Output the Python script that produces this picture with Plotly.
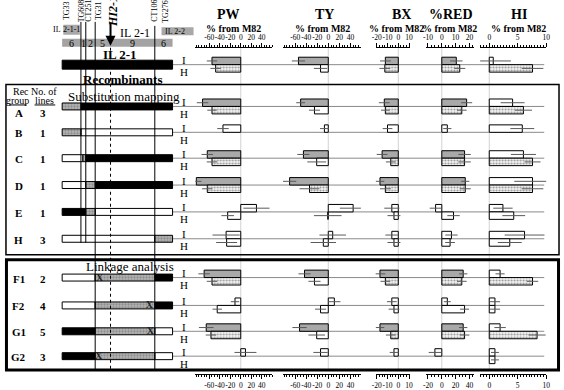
import plotly.graph_objects as go

W, H = 564, 390
SERIF = "Liberation Serif, Times New Roman, serif"

# ---------------- data ----------------
rows = ["IL 2-1", "A", "B", "C", "D", "E", "H", "F1", "F2", "G1", "G2"]
n_lines = ["", "3", "1", "1", "1", "1", "3", "2", "4", "5", "3"]
traits = ["PW", "TY", "BX", "%RED", "HI"]

pw_I = [-55, -73, -34, -64, -85, 30, -28, -70, -11, -66, 9]
pw_I_err = [10, 11, 11, 11, 10, 25, 26, 11, 8, 14, 21]
pw_H = [-48, -55, None, -55, -64, -25, -27, -55, -45, -57, None]
pw_H_err = [10, 9, None, 10, 10, 12, 20, 10, 9, 10, None]

ty_I = [-54, -50, -7, -45, -70, 45, 8, -43, 11, -52, -14]
ty_I_err = [12, 8, 8, 11, 12, 24, 24, 11, 11, 13, 13]
ty_H = [-14, -25, None, -21, -34, -1, -9, -25, -14, -21, None]
ty_H_err = [12, 10, None, 17, 18, 25, 23, 11, 10, 15, None]

bx_I = [-12, -13, -10, -15, -17, -6, -6, -17, -6, -17, -4]
bx_I_err = [5, 5, 4.5, 5, 4, 7, 6, 5, 4.5, 4, 4]
bx_H = [-12.5, -12, None, -7, -12, -4, -4, -12, -4, -7, None]
bx_H_err = [5, 4, None, 4.5, 5, 6, 6, 4.5, 5, 4.5, None]

red_I = [21, 36, 8, 33, 34, -9, 14, 31, 8, 31, -10]
red_I_err = [9, 8, 6, 9, 6, 8.5, 9, 6, 5, 6, 9]
red_H = [26, 29, None, 33, 34, 17, 12, 29, 33, 33, None]
red_H_err = [8, 7, None, 9, 8, 9, 7, 7, 6.5, 7, None]

hi_I = [0.7, 4.1, 5.8, 6.0, 7.6, 2.4, 6.2, 1.9, 1.0, 1.9, 1.0]
hi_I_err = [3.1, 2.1, 2.1, 2.2, 3.2, 1.7, 3.5, 0.8, 0.9, 1.0, 0.7]
hi_H = [7.6, 6.0, None, 7.6, 7.6, 4.3, 3.6, 7.6, 1.0, 8.4, 1.0]
hi_H_err = [1.9, 1.5, None, 1.4, 1.9, 2.0, 2.1, 1.0, 0.9, 1.5, 0.7]

# significant difference from M82 (1 = significant)
sig_I = {"PW": [1, 1, 0, 1, 1, 0, 0, 1, 0, 1, 0], "TY": [1, 1, 0, 1, 1, 0, 0, 1, 0, 1, 0],
         "BX": [1, 1, 0, 1, 1, 0, 0, 1, 0, 1, 0], "%RED": [1, 1, 0, 1, 1, 0, 0, 1, 0, 1, 0],
         "HI": [0] * 11}
sig_H = {"PW": [1, 1, 0, 1, 1, 0, 0, 1, 0, 1, 0], "TY": [0, 0, 0, 0, 1, 0, 0, 0, 0, 0, 0],
         "BX": [1, 1, 0, 1, 1, 0, 0, 1, 0, 1, 0], "%RED": [1, 1, 0, 1, 1, 0, 0, 1, 0, 1, 0],
         "HI": [1, 1, 0, 1, 1, 0, 0, 1, 0, 1, 0]}

tick_vals = {"PW": [-60, -40, -20, 0, 20, 40], "TY": [-60, -40, -20, 0, 20, 40],
             "BX": [-20, -10, 0, 10], "%RED": [-20, 0, 20, 40], "HI": [0, 5, 10]}
top_text_red = ["-10", "0", "10", "20"]

# map (relative units along the IL 2-1 segment)
markers = ["TG33", "TG608", "CT251", "TG31", "HI2-1", "CT106", "TG276"]
marker_pos = [4.5, 17, 21.4, 29.9, 43.8, 83.9, 94]
bin_edges = [0, 17, 21.4, 29.9, 43.8, 83.9, 100]
bin_labels = ["6", "1", "2", "5", "9", "6"]
il_211 = (1, 16)
il_22 = (90, 119)

# genotype segments: P = pennellii, E = esculentum (M82), R = recombination interval
geno = {
    "IL 2-1": [(0, 100, "P")],
    "A": [(0, 17, "R"), (17, 100, "P")],
    "B": [(0, 17, "R"), (17, 100, "E")],
    "C": [(0, 18.8, "E"), (18.8, 21.4, "R"), (21.4, 100, "P")],
    "D": [(0, 21.4, "E"), (21.4, 29.9, "R"), (29.9, 100, "P")],
    "E": [(0, 21.4, "P"), (21.4, 29.9, "R"), (29.9, 100, "E")],
    "H": [(0, 83.9, "E"), (83.9, 100, "R")],
    "F1": [(0, 29.9, "E"), (29.9, 83.9, "R"), (83.9, 100, "P")],
    "F2": [(0, 29.9, "E"), (29.9, 83.9, "R"), (83.9, 100, "P")],
    "G1": [(0, 29.9, "P"), (29.9, 83.9, "R"), (83.9, 100, "E")],
    "G2": [(0, 29.9, "P"), (29.9, 83.9, "R"), (83.9, 100, "E")],
}
x_marks = {"F1": 34, "F2": 79, "G1": 80, "G2": 33}

# ---------------- layout helpers ----------------
row_y = [65, 107, 133, 159, 186, 213, 240, 279, 307, 333, 358]
panel_px = {"PW": (194, 272), "TY": (283, 362), "BX": (377, 412), "%RED": (428, 477), "HI": (483, 550)}
panel_rng = {"PW": (-87, 60), "TY": (-82, 59), "BX": (-21, 11), "%RED": (-23, 47), "HI": (-1.6, 10)}
minor_dt = {"PW": 5, "TY": 5, "BX": 2.5, "%RED": 5, "HI": 0.5}
title_px = {"PW": 228, "TY": 325, "BX": 403, "%RED": 453, "HI": 522}
sub_px = {"PW": 233, "TY": 323, "BX": 398, "%RED": 452, "HI": 522}
values = {"PW": (pw_I, pw_I_err, pw_H, pw_H_err), "TY": (ty_I, ty_I_err, ty_H, ty_H_err),
          "BX": (bx_I, bx_I_err, bx_H, bx_H_err), "%RED": (red_I, red_I_err, red_H, red_H_err),
          "HI": (hi_I, hi_I_err, hi_H, hi_H_err)}

def px(p):
    return p / W

fig = go.Figure()

# ---- chromosome diagram (axis x) ----
chrom_dom = (0, 195)
u_scale = 1.12
u0_px = 59
chrom_rng = ((chrom_dom[0] - u0_px) / u_scale, (chrom_dom[1] - u0_px) / u_scale)

# bin bar and IL boxes
fig.add_trace(go.Bar(orientation="h", y=[43], x=[bin_edges[-1] - bin_edges[0]], base=[bin_edges[0]],
                     width=8, marker=dict(color="#a3a3a3", line=dict(width=0)),
                     xaxis="x", yaxis="y", hoverinfo="skip", showlegend=False))
fig.add_trace(go.Bar(orientation="h", y=[30, 31.5], x=[il_211[1] - il_211[0], il_22[1] - il_22[0]],
                     base=[il_211[0], il_22[0]], width=[10, 8],
                     marker=dict(color="#a8a8a8", line=dict(width=0)),
                     xaxis="x", yaxis="y", hoverinfo="skip", showlegend=False))

styles = {"P": dict(color="black", line=dict(color="black", width=1)),
          "E": dict(color="white", line=dict(color="black", width=1)),
          "R": dict(color="#b4b4b4", line=dict(color="black", width=1),
                    pattern=dict(shape=".", fgcolor="#6a6a6a", size=3, solidity=0.45, fillmode="overlay"))}
for gt in ["E", "P", "R"]:
    ys, xs, bs, ws = [], [], [], []
    for i, r in enumerate(rows):
        for (s, e, t) in geno[r]:
            if t == gt:
                ys.append(row_y[i]); xs.append(e - s); bs.append(s)
                ws.append(9 if r == "IL 2-1" else 7)
    fig.add_trace(go.Bar(orientation="h", y=ys, x=xs, base=bs, width=ws, marker=styles[gt],
                         xaxis="x", yaxis="y", hoverinfo="skip", showlegend=False))

fig.add_trace(go.Scatter(x=[x_marks[r] for r in x_marks], y=[row_y[rows.index(r)] + 0.5 for r in x_marks],
                         mode="text", text=["<b>X</b>"] * len(x_marks),
                         textfont=dict(family=SERIF, size=10, color="#222"),
                         xaxis="x", yaxis="y", hoverinfo="skip", showlegend=False))

# ---- trait panels ----
axis_ids = {t: i + 2 for i, t in enumerate(traits)}
for t in traits:
    k = axis_ids[t]
    I, Ie, Hh, He = values[t]
    ys, xs, es, cols, pats = [], [], [], [], []
    for i in range(len(rows)):
        if I[i] is not None:
            ys.append(row_y[i] - 3.75); xs.append(I[i]); es.append(Ie[i])
            cols.append("#a9a9a9" if sig_I[t][i] else "white"); pats.append("")
        if Hh[i] is not None:
            ys.append(row_y[i] + 3.75); xs.append(Hh[i]); es.append(He[i])
            if sig_H[t][i]:
                cols.append("#f4f4f4"); pats.append(".")
            else:
                cols.append("white"); pats.append("")
    fig.add_trace(go.Bar(orientation="h", y=ys, x=xs, base=0, width=7.5,
                         marker=dict(color=cols, line=dict(color="black", width=1),
                                     pattern=dict(shape=pats, fgcolor="#8f8f8f", size=3,
                                                  solidity=0.4, fillmode="overlay")),
                         error_x=dict(type="data", array=es, color="#5a5a5a", thickness=1, width=0),
                         xaxis=f"x{k}", yaxis="y", hoverinfo="skip", showlegend=False))
    # dummy trace for the bottom ruler axis
    fig.add_trace(go.Scatter(x=[0], y=[-10], mode="markers", marker=dict(opacity=0),
                             xaxis=f"x{k + 5}", yaxis="y", hoverinfo="skip", showlegend=False))

layout_axes = {}
layout_axes["xaxis"] = dict(domain=[px(chrom_dom[0]), px(chrom_dom[1])], range=list(chrom_rng),
                            visible=False, fixedrange=True)
layout_axes["yaxis"] = dict(domain=[0, 1], range=[H, 0], visible=False, fixedrange=True)
for t in traits:
    k = axis_ids[t]
    tv = tick_vals[t]
    top_txt = top_text_red if t == "%RED" else [str(v) for v in tv]
    common = dict(range=list(panel_rng[t]), showgrid=False, zeroline=False, showline=True,
                  linecolor="black", linewidth=1, ticks="outside", ticklen=4, tickwidth=1,
                  tickcolor="black", tickvals=tv, tickangle=0,
                  tickfont=dict(family=SERIF, size=7.5, color="black"),
                  minor=dict(ticks="outside", ticklen=2, dtick=minor_dt[t], tick0=0,
                             tickcolor="black", tickwidth=1, showgrid=False),
                  anchor="free", fixedrange=True)
    layout_axes[f"xaxis{k}"] = dict(domain=[px(panel_px[t][0]), px(panel_px[t][1])], side="top",
                                     position=1 - 47 / H, ticktext=top_txt, **common)
    layout_axes[f"xaxis{k + 5}"] = dict(overlaying=f"x{k}", side="bottom", position=1 - 376 / H,
                                         ticktext=[str(v) for v in tv], **common)

shapes = []
# baselines
for y in row_y:
    shapes.append(dict(type="line", xref="paper", yref="y", x0=px(171), x1=px(548), y0=y, y1=y,
                       line=dict(color="#8a8a8a", width=1), layer="below"))
# zero lines
for t in traits:
    shapes.append(dict(type="line", xref=f"x{axis_ids[t]}", yref="y", x0=0, x1=0, y0=48, y1=372,
                       line=dict(color="#d2d2d2", width=1), layer="below"))
# marker lines
marker_lines = {"TG608": (22, 244), "CT251": (22, 244), "TG31": (22, 372), "CT106": (26, 372)}
for m, (y0, y1) in marker_lines.items():
    xm = marker_pos[markers.index(m)]
    shapes.append(dict(type="line", xref="x", yref="y", x0=xm, x1=xm, y0=y0, y1=y1,
                       line=dict(color="black", width=1)))
xq = marker_pos[markers.index("HI2-1")]
shapes.append(dict(type="line", xref="x", yref="y", x0=xq, x1=xq, y0=48, y1=372,
                   line=dict(color="black", width=1, dash="3px,3px")))
# boxes
shapes.append(dict(type="rect", xref="paper", yref="y", x0=px(2), x1=px(563), y0=85, y1=256,
                   line=dict(color="black", width=1.5)))
shapes.append(dict(type="rect", xref="paper", yref="y", x0=px(2.5), x1=px(562.5), y0=261, y1=372,
                   line=dict(color="black", width=3)))
# header underlines
for a, b in [(5, 23), (31, 52)]:
    shapes.append(dict(type="line", xref="paper", yref="y", x0=px(a), x1=px(b), y0=105.5, y1=105.5,
                       line=dict(color="black", width=1)))

ann = []
def text(xp, y, s, size=11, bold=False, italic=False, angle=0, xanchor="center", xref="paper", xshift=0):
    if bold:
        s = f"<b>{s}</b>"
    if italic:
        s = f"<i>{s}</i>"
    ann.append(dict(x=xp, y=y, xref=xref, yref="y", text=s, showarrow=False, textangle=angle,
                    xanchor=xanchor, yanchor="middle", xshift=xshift,
                    font=dict(family=SERIF, size=size, color="black")))

# marker labels
label_shift = {"TG33": 0, "TG608": 1.5, "CT251": 3, "TG31": 4, "HI2-1": 2.5, "CT106": 0, "TG276": 0}
for m, p in zip(markers, marker_pos):
    if m == "HI2-1":
        text(p, 12, "HI2-1", size=12, bold=True, italic=True, angle=-90, xref="x", xshift=label_shift[m])
    else:
        text(p, 11, m, size=8, angle=-90, xref="x", xshift=label_shift[m])
# arrow to QTL
ann.append(dict(x=xq, y=46, xref="x", yref="y", ax=0, ay=-24, text="", showarrow=True,
                arrowhead=2, arrowsize=1, arrowwidth=2, arrowcolor="black"))
# IL labels
text(px(54), 30, "IL", size=8)
text((il_211[0] + il_211[1]) / 2, 30, "2-1-1", size=8, xref="x")
text((il_22[0] + il_22[1]) / 2 - 2, 31.5, "IL 2-2", size=8, xref="x")
text(px(133), 33, "IL 2-1", size=12)
for lab, a, b in zip(bin_labels, bin_edges[:-1], bin_edges[1:]):
    text((a + b) / 2, 43.5, lab, size=10, xref="x")
text(px(118), 55, "IL 2-1", size=13, bold=True)
text(px(120), 80, "Recombinants", size=13, bold=True)
text(px(122), 97, "Substitution mapping", size=13)
text(px(128), 268, "Linkage analysis", size=13)
text(px(17), 92, "Rec", size=10)
text(px(13.5), 101, "group", size=10)
text(px(41), 92, "No. of", size=10)
text(px(41.5), 101, "lines", size=10)

for i, r in enumerate(rows):
    yb = row_y[i]
    text(px(183), yb - 4.5, "I", size=11)
    text(px(183), yb + 7.5, "H", size=11)
    if i == 0:
        continue
    yl = yb + 7 if r == "A" else yb + 1
    text(px(15), yl, r, size=11, bold=True)
    text(px(40), yl, n_lines[i], size=11, bold=True)

for t in traits:
    text(px(title_px[t]), 15, t, size=14, bold=True)
    text(px(sub_px[t]), 29, "% from M82", size=10, bold=True)

fig.update_layout(width=W, height=H, margin=dict(l=0, r=0, t=0, b=0), barmode="overlay",
                  paper_bgcolor="white", plot_bgcolor="rgba(0,0,0,0)", showlegend=False,
                  hovermode=False, shapes=shapes, annotations=ann, **layout_axes)

fig.write_html("out.html", config={"displayModeBar": False, "staticPlot": True},
               post_script="document.body.style.margin='0';document.body.style.padding='0';"
                           "document.body.style.overflow='hidden';")
